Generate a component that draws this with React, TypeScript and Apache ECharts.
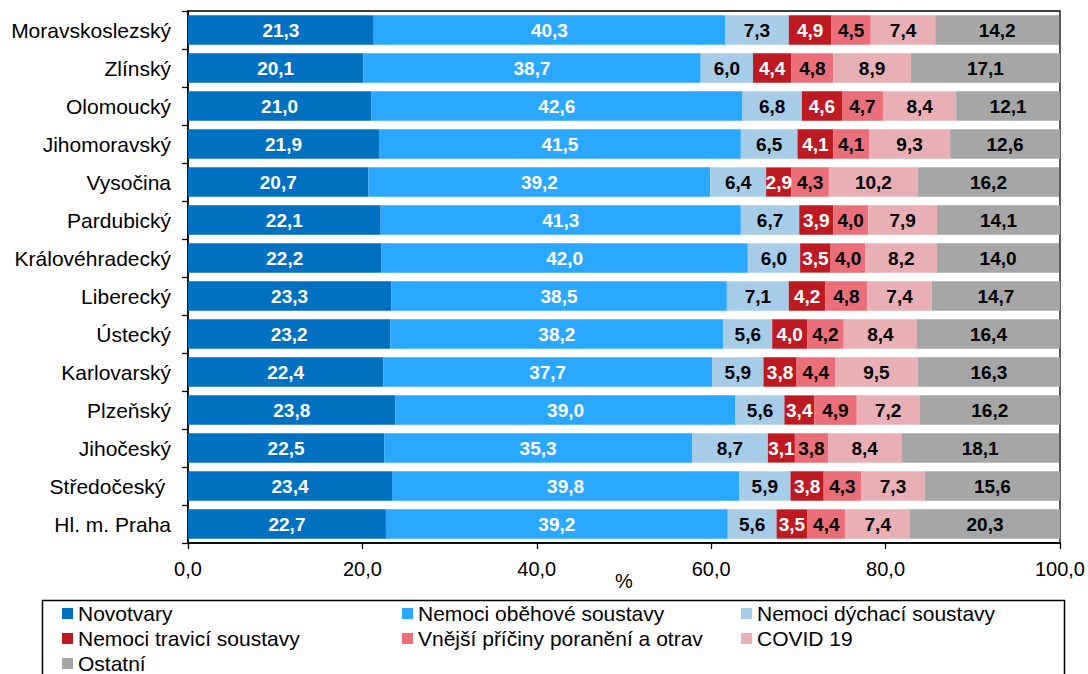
import React, { useEffect, useRef } from "react";
import * as echarts from "echarts";

const regions = [
  "Moravskoslezský",
  "Zlínský",
  "Olomoucký",
  "Jihomoravský",
  "Vysočina",
  "Pardubický",
  "Královéhradecký",
  "Liberecký",
  "Ústecký",
  "Karlovarský",
  "Plzeňský",
  "Jihočeský",
  "Středočeský ",
  "Hl. m. Praha",
];

const seriesNames = [
  "Novotvary",
  "Nemoci oběhové soustavy",
  "Nemoci dýchací soustavy",
  "Nemoci travicí soustavy",
  "Vnější příčiny poranění a otrav",
  "COVID 19",
  "Ostatní",
];

const novotvary = [21.3, 20.1, 21.0, 21.9, 20.7, 22.1, 22.2, 23.3, 23.2, 22.4, 23.8, 22.5, 23.4, 22.7];
const obehove = [40.3, 38.7, 42.6, 41.5, 39.2, 41.3, 42.0, 38.5, 38.2, 37.7, 39.0, 35.3, 39.8, 39.2];
const dychaci = [7.3, 6.0, 6.8, 6.5, 6.4, 6.7, 6.0, 7.1, 5.6, 5.9, 5.6, 8.7, 5.9, 5.6];
const travici = [4.9, 4.4, 4.6, 4.1, 2.9, 3.9, 3.5, 4.2, 4.0, 3.8, 3.4, 3.1, 3.8, 3.5];
const vnejsi = [4.5, 4.8, 4.7, 4.1, 4.3, 4.0, 4.0, 4.8, 4.2, 4.4, 4.9, 3.8, 4.3, 4.4];
const covid = [7.4, 8.9, 8.4, 9.3, 10.2, 7.9, 8.2, 7.4, 8.4, 9.5, 7.2, 8.4, 7.3, 7.4];
const ostatni = [14.2, 17.1, 12.1, 12.6, 16.2, 14.1, 14.0, 14.7, 16.4, 16.3, 16.2, 18.1, 15.6, 20.3];

const seriesValues = [novotvary, obehove, dychaci, travici, vnejsi, covid, ostatni];
const seriesColors = ["#0070C0", "#2AA8FF", "#A6CCE8", "#BE1A22", "#EA6F79", "#E8AFB4", "#A6A6A6"];
const labelColors = ["#ffffff", "#ffffff", "#000000", "#ffffff", "#000000", "#000000", "#000000"];

const xMin = 0;
const xMax = 100;
const xInterval = 20;
const axisTitle = "%";

const legendPositions = [
  { left: 62, top: 603 },
  { left: 402, top: 603 },
  { left: 741, top: 603 },
  { left: 62, top: 628 },
  { left: 402, top: 628 },
  { left: 741, top: 628 },
  { left: 62, top: 653 },
];

const fmt = (v: number) => v.toFixed(1).replace(".", ",");

const font = "'Liberation Sans', Arial, Helvetica, sans-serif";

export default function App() {
  const ref = useRef<HTMLDivElement>(null);

  useEffect(() => {
    if (!ref.current) return;
    const chart = echarts.init(ref.current, undefined, { renderer: "svg" });

    const series = seriesNames.map((name, i) => ({
      name,
      type: "bar",
      stack: "total",
      barWidth: "77%",
      clip: true,
      data: seriesValues[i],
      itemStyle: { color: seriesColors[i] },
      label: {
        show: true,
        position: "inside",
        color: labelColors[i],
        fontFamily: font,
        fontWeight: "bold",
        fontSize: 19,
        formatter: (p: any) => fmt(p.value),
      },
    }));

    chart.setOption({
      animation: false,
      grid: {
        left: 188,
        right: 27,
        top: 11,
        bottom: 131,
        show: true,
        borderColor: "#000",
        borderWidth: 1.3,
        backgroundColor: "transparent",
      },
      xAxis: {
        type: "value",
        min: xMin,
        max: xMax,
        interval: xInterval,
        name: axisTitle,
        nameLocation: "middle",
        nameGap: 28,
        nameMoveOverlap: false,
        nameTextStyle: { color: "#000", fontSize: 20, fontFamily: font },
        axisLine: { show: true, lineStyle: { color: "#000", width: 1.5 } },
        axisTick: { show: true, length: 6, lineStyle: { color: "#000", width: 1.3 } },
        splitLine: { show: false },
        axisLabel: {
          color: "#000",
          fontSize: 20,
          fontFamily: font,
          margin: 16,
          formatter: (v: number) => fmt(v),
        },
      },
      yAxis: {
        type: "category",
        data: regions,
        inverse: true,
        axisLine: { show: true, lineStyle: { color: "#000", width: 1.5 } },
        axisTick: { show: true, length: 6, lineStyle: { color: "#000", width: 1.3 } },
        axisLabel: { color: "#000", fontSize: 21, fontFamily: font, margin: 17 },
      },
      legend: seriesNames.map((name, i) => ({
        data: [name],
        left: legendPositions[i].left,
        top: legendPositions[i].top,
        padding: 0,
        itemWidth: 11,
        itemHeight: 11,
        icon: "rect",
        selectedMode: false,
        textStyle: { color: "#000", fontSize: 21, fontFamily: font },
      })),
      graphic: [
        {
          type: "rect",
          left: 40,
          top: 598,
          shape: { width: 1022, height: 100 },
          style: { fill: "none", stroke: "#000", lineWidth: 1.5 },
          silent: true,
        },
      ],
      series,
    });

    return () => chart.dispose();
  }, []);

  return (
    <div
      ref={ref}
      style={{ position: "fixed", left: 0, top: 0, width: 1088, height: 674, background: "#fff" }}
    />
  );
}
